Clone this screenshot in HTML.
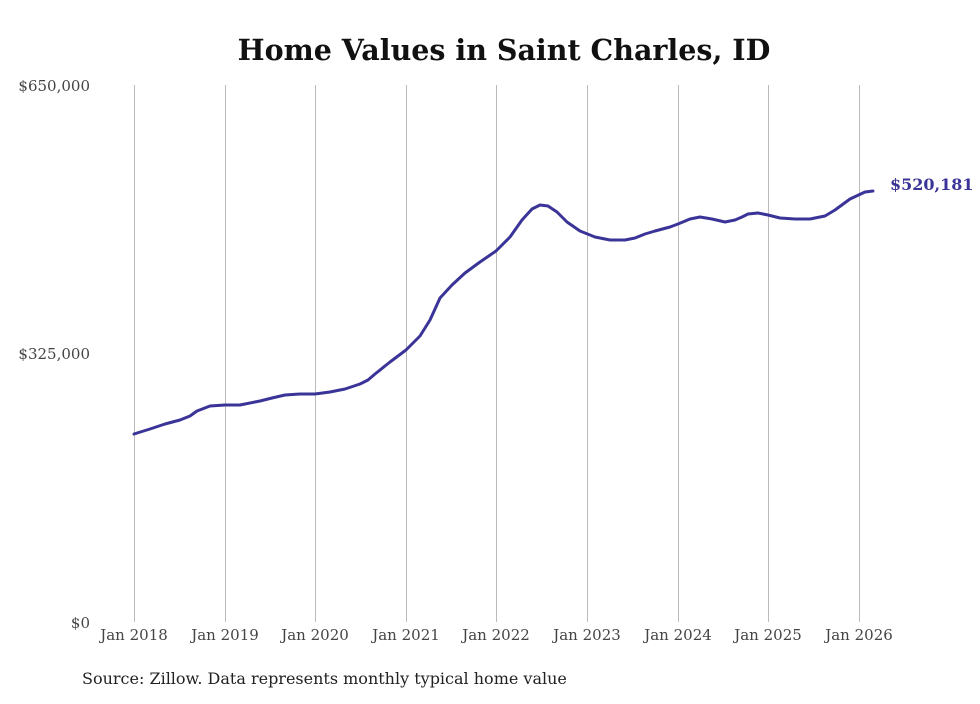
<!DOCTYPE html>
<html><head><meta charset="utf-8"><style>
html,body{margin:0;padding:0;background:#fff;}
svg text{font-family:"DejaVu Serif","Liberation Serif",serif;}
</style></head><body>
<svg width="980" height="699" viewBox="0 0 980 699" xmlns="http://www.w3.org/2000/svg">
<rect width="980" height="699" fill="#fff"/>
<text x="504" y="60" text-anchor="middle" font-size="28.5" font-weight="bold" fill="#111">Home Values in Saint Charles, ID</text>
<g stroke="#bbb" stroke-width="1">
<line x1="134.5" y1="85" x2="134.5" y2="622"/><line x1="225.5" y1="85" x2="225.5" y2="622"/>
<line x1="315.5" y1="85" x2="315.5" y2="622"/><line x1="406.5" y1="85" x2="406.5" y2="622"/>
<line x1="496.5" y1="85" x2="496.5" y2="622"/><line x1="587.5" y1="85" x2="587.5" y2="622"/>
<line x1="678.5" y1="85" x2="678.5" y2="622"/><line x1="768.5" y1="85" x2="768.5" y2="622"/>
<line x1="859.5" y1="85" x2="859.5" y2="622"/>
</g>
<g font-size="15" fill="#444" text-anchor="end">
<text x="90" y="91">$650,000</text><text x="90" y="359">$325,000</text><text x="90" y="628">$0</text>
</g>
<g font-size="15" fill="#444" text-anchor="middle">
<text x="134" y="640">Jan 2018</text><text x="225" y="640">Jan 2019</text><text x="315" y="640">Jan 2020</text>
<text x="406" y="640">Jan 2021</text><text x="496" y="640">Jan 2022</text><text x="587" y="640">Jan 2023</text>
<text x="678" y="640">Jan 2024</text><text x="768" y="640">Jan 2025</text><text x="859" y="640">Jan 2026</text>
</g>
<polyline fill="none" stroke="#3b3498" stroke-width="3" stroke-linejoin="round" stroke-linecap="round" points="134,434 150,429 165,424 180,420 190,416 197,411 210,406 225,405 240,405 260,401 272,398 285,395 300,394 315,394 330,392 345,389 360,384 368,380 375,374 390,362 406,350 420,336 430,320 440,298 452,285 465,273 480,262 496,251 510,237 522,220 532,209 540,205 548,206 557,212 567,222 580,231 595,237 610,240 625,240 635,238 645,234 655,231 670,227 678,224 690,219 700,217 712,219 725,222 735,220 742,217 748,214 758,213 768,215 780,218 795,219 810,219 825,216 835,210 850,199 865,192 873,191"/>
<text x="890" y="190" font-size="16" font-weight="bold" fill="#3b3498">$520,181</text>
<text x="82" y="684" font-size="16" fill="#222">Source: Zillow. Data represents monthly typical home value</text>
</svg>
</body></html>
